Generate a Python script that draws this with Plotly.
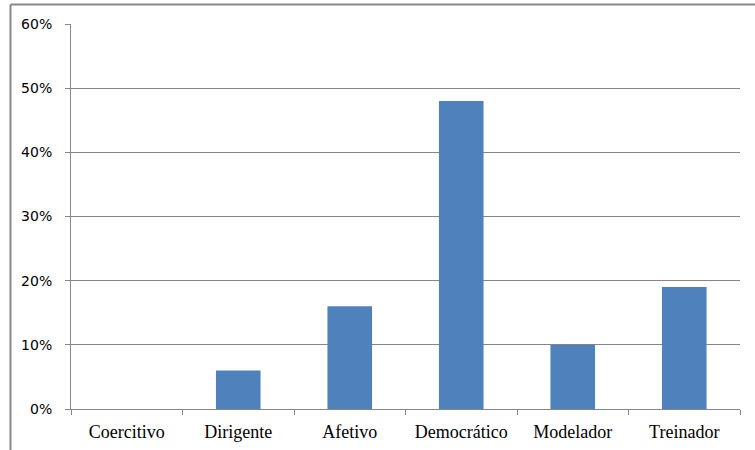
import plotly.graph_objects as go

categories = ["Coercitivo", "Dirigente", "Afetivo", "Democrático", "Modelador", "Treinador"]
values = [0.0, 0.06, 0.16, 0.48, 0.10, 0.19]
y_ticks = [0, 0.1, 0.2, 0.3, 0.4, 0.5, 0.6]

W, H = 755, 450
ML, MR, MT, MB = 71, 15, 24, 41
pw, ph = W - ML - MR, H - MT - MB

def px_to_paper_x(px):
    return (px - ML) / pw

def px_to_paper_y(py):
    return (H - MB - py) / ph

fig = go.Figure(
    go.Bar(
        x=categories,
        y=values,
        marker=dict(color="#4F81BD", line=dict(width=0)),
        width=0.4,
    )
)

axis_grey = "#868686"

fig.update_layout(
    width=W,
    height=H,
    margin=dict(l=ML, r=MR, t=MT, b=MB, autoexpand=False),
    paper_bgcolor="white",
    plot_bgcolor="white",
    showlegend=False,
    xaxis=dict(
        type="category",
        automargin=False,
        showline=True,
        linecolor=axis_grey,
        linewidth=1,
        ticks="outside",
        tickson="boundaries",
        ticklen=5,
        tickcolor=axis_grey,
        showgrid=False,
        tickfont=dict(family="Liberation Serif", size=18, color="#000000"),
        ticklabelstandoff=6,
    ),
    yaxis=dict(
        range=[0, 0.6],
        automargin=False,
        tickvals=y_ticks,
        tickformat=".0%",
        showline=True,
        linecolor=axis_grey,
        linewidth=1,
        ticks="outside",
        ticklen=5,
        tickcolor=axis_grey,
        showgrid=True,
        gridcolor=axis_grey,
        gridwidth=1,
        zeroline=False,
        tickfont=dict(family="DejaVu Sans", size=14, color="#000000"),
        ticklabelstandoff=10,
    ),
    shapes=[
        # chart-area frame (top and left edges)
        dict(
            type="line", xref="paper", yref="paper",
            x0=px_to_paper_x(10.5), x1=px_to_paper_x(W + 5),
            y0=px_to_paper_y(4.5), y1=px_to_paper_y(4.5),
            line=dict(color="#8a8a8a", width=2),
        ),
        dict(
            type="line", xref="paper", yref="paper",
            x0=px_to_paper_x(10.5), x1=px_to_paper_x(10.5),
            y0=px_to_paper_y(4.5), y1=px_to_paper_y(H + 5),
            line=dict(color="#8a8a8a", width=2),
        ),
    ],
)

fig.write_html("out.html")
